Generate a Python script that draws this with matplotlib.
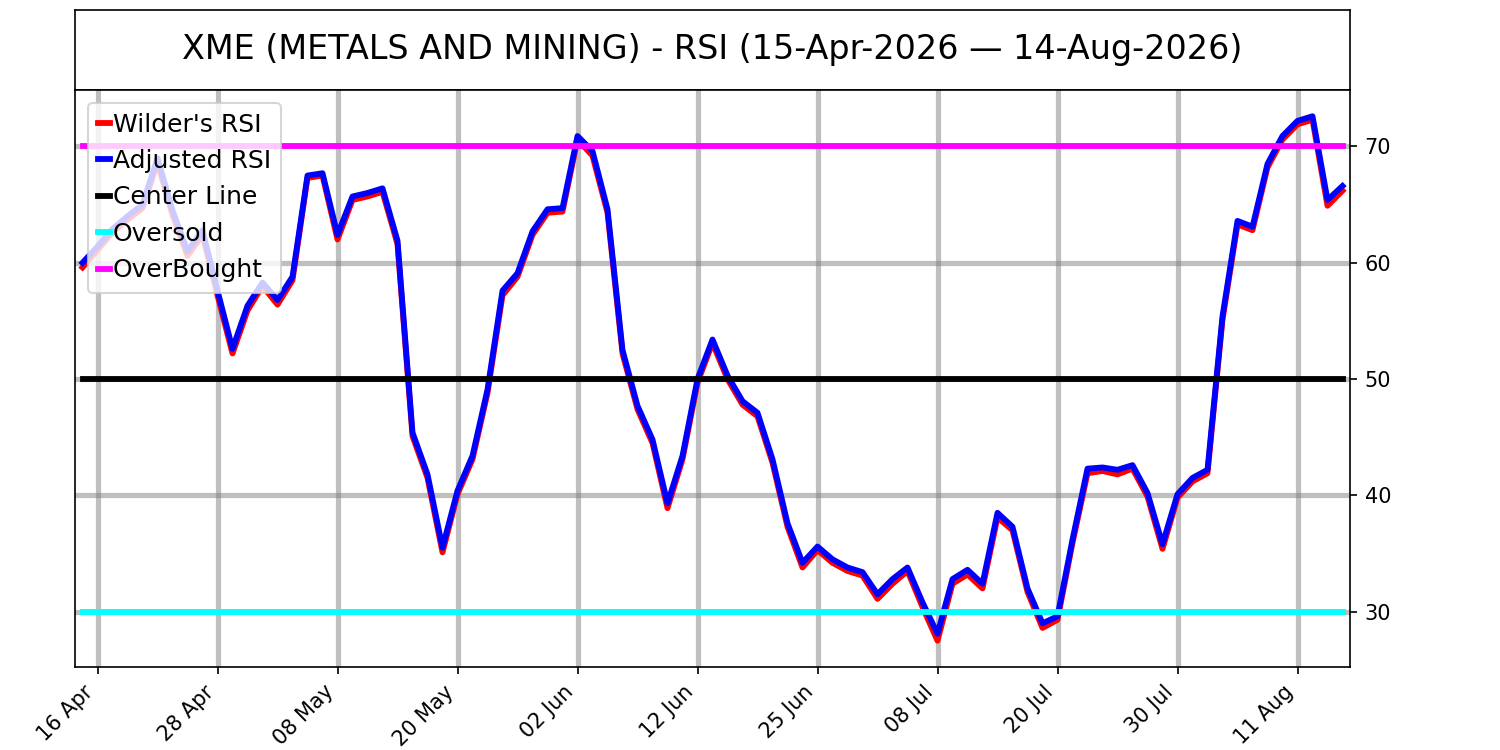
import pandas as pd
import numpy as np
import matplotlib
matplotlib.use('Agg')
import matplotlib.pyplot as plt

# Trading days 15-Apr-2026 .. 14-Aug-2026 (US market holidays removed)
holidays = ['2026-05-25', '2026-06-19', '2026-07-03']
dates = pd.bdate_range('2026-04-15', '2026-08-14', freq='C', holidays=holidays)

# RSI values
adjusted_rsi = [60.0, 61.4, 62.9, 64.0, 65.0, 69.0, 64.5, 61.0, 62.8, 57.6,
                52.6, 56.3, 58.3, 56.8, 58.8, 67.5, 67.7, 62.4, 65.7, 66.0,
                66.4, 61.9, 45.4, 41.8, 35.5, 40.4, 43.4, 49.1, 57.6, 59.1,
                62.7, 64.6, 64.7, 70.9, 69.6, 64.6, 52.5, 47.7, 44.8, 39.3,
                43.4, 50.0, 53.4, 50.3, 48.1, 47.1, 43.1, 37.6, 34.2, 35.6,
                34.5, 33.8, 33.4, 31.5, 32.8, 33.8, 30.8, 28.1, 32.8, 33.6,
                32.4, 38.5, 37.3, 32.0, 29.0, 29.6, 36.2, 42.3, 42.4, 42.2,
                42.6, 40.2, 35.8, 40.1, 41.5, 42.2, 55.4, 63.6, 63.1, 68.5,
                70.9, 72.2, 72.6, 65.4, 66.6]

wilder_rsi = [59.6, 61.1, 62.6, 63.7, 64.7, 68.6, 64.1, 60.6, 62.4, 57.2,
              52.2, 55.9, 58.0, 56.4, 58.5, 67.3, 67.5, 62.0, 65.4, 65.7,
              66.1, 61.6, 45.1, 41.5, 35.1, 40.1, 43.1, 48.8, 57.2, 58.8,
              62.4, 64.3, 64.4, 70.6, 69.2, 64.3, 52.2, 47.4, 44.5, 38.9,
              43.1, 49.7, 53.1, 50.0, 47.8, 46.8, 42.8, 37.3, 33.8, 35.3,
              34.2, 33.5, 33.1, 31.1, 32.4, 33.5, 30.4, 27.5, 32.4, 33.2,
              32.0, 38.1, 37.0, 31.7, 28.6, 29.3, 35.9, 41.9, 42.1, 41.8,
              42.3, 39.9, 35.4, 39.8, 41.2, 41.9, 55.1, 63.3, 62.8, 68.2,
              70.6, 71.9, 72.3, 64.9, 66.2]

center_level = 50
oversold_level = 30
overbought_level = 70

title = "XME (METALS AND MINING) - RSI (15-Apr-2026 \u2014 14-Aug-2026)"

x = np.arange(len(dates))

fig = plt.figure(figsize=(10, 5), dpi=150)

# Title box
ax_t = fig.add_axes([0.05, 0.88, 0.85, 0.1067])
ax_t.set_xticks([])
ax_t.set_yticks([])
ax_t.text(0.5, 0.5, title, ha='center', va='center', fontsize=16,
          transform=ax_t.transAxes)

# Main RSI plot
ax = fig.add_axes([0.05, 0.1107, 0.85, 0.7693])
ax.plot(x, wilder_rsi, color='red', lw=2.8, label="Wilder's RSI")
ax.plot(x, adjusted_rsi, color='blue', lw=2.8, label='Adjusted RSI')
ax.plot(x, [center_level] * len(x), color='black', lw=2.8, label='Center Line')
ax.plot(x, [oversold_level] * len(x), color='cyan', lw=2.8, label='Oversold')
ax.plot(x, [overbought_level] * len(x), color='magenta', lw=2.8, label='OverBought')

ax.set_xlim(-0.5, len(x) - 0.5)
tick_pos = x[1::8]
ax.set_xticks(tick_pos)
ax.set_xticklabels([d.strftime('%d %b') for d in dates[1::8]], rotation=45, ha='right')
ax.yaxis.tick_right()
ax.grid(True, color='gray', alpha=0.5, lw=2.5)

ax.legend(loc='upper left', fontsize=12, handlelength=0.5, handletextpad=0.12)

plt.savefig('out.png', dpi=150)
